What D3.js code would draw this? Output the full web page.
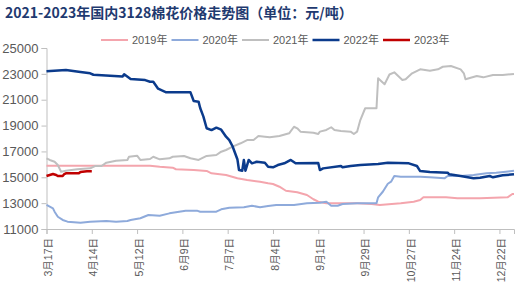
<!DOCTYPE html>
<html>
<head>
<meta charset="utf-8">
<script src="https://cdn.jsdelivr.net/npm/d3@7"></script>
<style>
body { margin: 0; background: #fff; }
text { font-family: "Liberation Sans", "Noto Sans CJK SC", sans-serif; }
</style>
</head>
<body>
<div id="chart"></div>
<script>
var title = '2021-2023年国内3128棉花价格走势图（单位：元/吨）'
var seriesNames = ['2019年', '2020年', '2021年', '2022年', '2023年']
var yTicks = [11000, 13000, 15000, 17000, 19000, 21000, 23000, 25000]
var xTickDates = ['3-17', '4-14', '5-12', '6-09', '7-07', '8-04', '9-01', '9-29', '10-27', '11-24', '12-22']
var xTickLabels = ['3月17日', '4月14日', '5月12日', '6月9日', '7月7日', '8月4日', '9月1日', '9月29日', '10月27日', '11月24日', '12月22日']

var dates2019 = ['3-17','5-20','5-26','6-03','6-05','6-16','6-24','6-27','7-06','7-13','7-19','7-27','8-01','8-04','8-08','8-12','8-19','8-25','8-29','9-01','9-06','9-25','10-04','10-09','10-22','10-30','11-03','11-05','11-19','11-26','12-10','12-27','12-30','12-31']
var vals2019 = [15900,15900,15820,15740,15620,15560,15490,15310,15180,14920,14790,14660,14540,14480,14270,13960,13840,13630,13300,13110,12990,12990,12930,12860,12990,13110,13240,13450,13450,13370,13370,13450,13710,13710]

var dates2020 = ['3-17','3-19','3-21','3-22','3-24','3-27','3-30','4-07','4-13','4-23','4-29','5-06','5-08','5-14','5-19','5-26','6-01','6-07','6-11','6-18','6-20','6-30','7-03','7-08','7-17','7-22','7-27','8-01','8-06','8-17','8-25','9-02','9-06','9-09','9-13','9-16','9-25','10-07','10-08','10-11','10-14','10-16','10-18','10-22','11-03','11-09','11-18','11-20','11-28','12-06','12-14','12-20','12-26','12-31']
var vals2020 = [12860,12730,12600,12340,11950,11700,11570,11490,11570,11620,11570,11620,11700,11830,12080,12030,12210,12340,12420,12420,12340,12340,12520,12650,12680,12800,12680,12780,12860,12860,12990,13030,13110,12800,12800,12930,12990,12990,13450,13900,14500,14660,15100,15050,15050,15000,14920,15100,15100,15180,15310,15350,15430,15510]

var dates2021 = ['3-17','3-19','3-22','3-24','3-26','3-29','4-05','4-13','4-16','4-20','4-23','4-29','5-06','5-07','5-12','5-14','5-20','5-22','5-26','6-01','6-03','6-10','6-14','6-19','6-24','6-30','7-03','7-06','7-10','7-15','7-19','7-23','7-26','7-30','8-02','8-08','8-14','8-17','8-19','8-21','8-29','9-01','9-02','9-06','9-09','9-11','9-15','9-21','9-23','9-25','9-27','9-30','10-07','10-08','10-12','10-15','10-18','10-23','10-25','10-29','11-03','11-09','11-14','11-17','11-22','11-28','11-30','12-01','12-08','12-12','12-18','12-24','12-31']
var vals2021 = [16470,16340,16200,15950,15430,15510,15620,15690,15870,15870,16130,16280,16340,16590,16670,16340,16410,16590,16390,16470,16590,16650,16470,16340,16650,16720,16980,17110,17370,17630,17880,17880,18190,18140,18090,18190,18400,18910,18790,18530,18450,18350,18530,18660,18870,18660,18580,18530,18350,18530,19430,20340,20340,22660,22200,22950,23120,22520,22580,23040,23350,23240,23350,23550,23610,23350,23040,22580,22830,22730,22910,22910,22990]

var dates2022 = ['3-17','3-29','4-07','4-13','4-15','5-03','5-04','5-08','5-17','5-20','5-22','5-25','5-30','6-14','6-16','6-19','6-20','6-22','6-24','6-27','6-30','7-03','7-06','7-08','7-10','7-13','7-14','7-16','7-17','7-18','7-20','7-22','7-25','7-30','8-01','8-04','8-07','8-11','8-15','8-18','9-01','9-02','9-04','9-15','9-16','9-21','9-27','10-08','10-14','10-27','11-01','11-03','11-09','11-20','11-21','11-28','12-06','12-10','12-16','12-18','12-24','12-31']
var vals2022 = [23200,23300,23150,23040,22930,22800,22970,22600,22520,22390,22390,21850,21570,21570,20900,20850,20360,19690,18790,18650,18840,18680,18140,17880,17400,16400,15560,15510,16340,15510,16340,16080,16200,16130,15820,15770,15950,16080,16340,16080,16100,15560,15690,15870,15770,15870,15950,16030,16130,16080,15870,15480,15410,15350,15230,15100,14920,14970,15100,15000,15150,15230]

var dates2023 = ['3-17','3-19','3-21','3-23','3-24','3-27','3-28','3-29','4-06','4-07','4-11','4-14']
var vals2023 = [15100,15180,15250,15180,15100,15100,15250,15310,15310,15410,15460,15460]

var width = 520
var height = 296
var margin = { top: 48, right: 6, bottom: 67, left: 46.5 }
var colors = ['#f4a5ad', '#8eaadb', '#bfbfbf', '#0b3b8c', '#c00000']
var strokeW = [2, 2, 2, 2.5, 2.5]

var parseDate = d3.timeParse('%Y-%m-%d')
function toDate(s) { return parseDate('2021-' + s) }

var allDates = [dates2019, dates2020, dates2021, dates2022, dates2023]
var allVals = [vals2019, vals2020, vals2021, vals2022, vals2023]
var series = allDates.map(function(ds, i) {
  return ds.map(function(d, j) { return { date: toDate(d), value: allVals[i][j] } })
})

var svg = d3.select('#chart')
  .append('svg')
  .attr('width', width)
  .attr('height', height)

var x = d3.scaleTime()
  .domain([toDate('3-17'), toDate('12-31')])
  .range([margin.left, width - margin.right])

var y = d3.scaleLinear()
  .domain([11000, 25000])
  .range([height - margin.bottom, margin.top])

// title
svg.append('text')
  .attr('x', 5)
  .attr('y', 18)
  .style('font-family', '"Noto Sans CJK SC", sans-serif')
  .style('font-weight', 'bold')
  .style('font-size', '14px')
  .attr('fill', '#1f3a70')
  .text(title)

// y axis
var yAxis = svg.append('g')
  .attr('transform', 'translate(' + margin.left + ',0)')
  .call(d3.axisLeft(y).tickValues(yTicks).tickSize(5).tickPadding(3).tickFormat(d3.format('d')))
yAxis.select('.domain').attr('stroke', '#bfbfbf')
yAxis.selectAll('.tick line').attr('stroke', '#bfbfbf')
yAxis.selectAll('.tick text')
  .attr('fill', '#595959')
  .style('font-size', '13px')

// x axis
var xAxis = svg.append('g')
  .attr('transform', 'translate(0,' + (height - margin.bottom) + ')')
  .call(d3.axisBottom(x).tickValues(xTickDates.map(toDate)).tickSize(5).tickFormat(''))
xAxis.select('.domain').attr('stroke', '#bfbfbf')
xAxis.selectAll('.tick line').attr('stroke', '#bfbfbf')

svg.append('g')
  .selectAll('text')
  .data(xTickDates)
  .enter()
  .append('text')
  .attr('transform', function(d) { return 'translate(' + (x(toDate(d)) + 2) + ',' + (height - margin.bottom + 9) + ')rotate(-90)' })
  .attr('dy', '0.35em')
  .style('text-anchor', 'end')
  .style('font-size', '10.5px')
  .attr('fill', '#595959')
  .text(function(d, i) { return xTickLabels[i] })

// lines
var line = d3.line()
  .x(function(d) { return x(d.date) })
  .y(function(d) { return y(d.value) })

svg.append('g')
  .selectAll('path')
  .data(series)
  .enter()
  .append('path')
  .attr('d', line)
  .attr('fill', 'none')
  .attr('stroke', function(d, i) { return colors[i] })
  .attr('stroke-width', function(d, i) { return strokeW[i] })
  .attr('stroke-linejoin', 'round')

// legend
var legend = svg.append('g')
  .selectAll('g')
  .data(seriesNames)
  .enter()
  .append('g')
  .attr('transform', function(d, i) { return 'translate(' + (101 + i * 70.5) + ',40)' })

legend.append('line')
  .attr('x1', 0)
  .attr('x2', 27)
  .attr('stroke', function(d, i) { return colors[i] })
  .attr('stroke-width', function(d, i) { return strokeW[i] })

legend.append('text')
  .attr('x', 31)
  .attr('dy', '0.35em')
  .style('font-size', '11px')
  .attr('fill', '#595959')
  .text(function(d) { return d })
</script>
</body>
</html>
